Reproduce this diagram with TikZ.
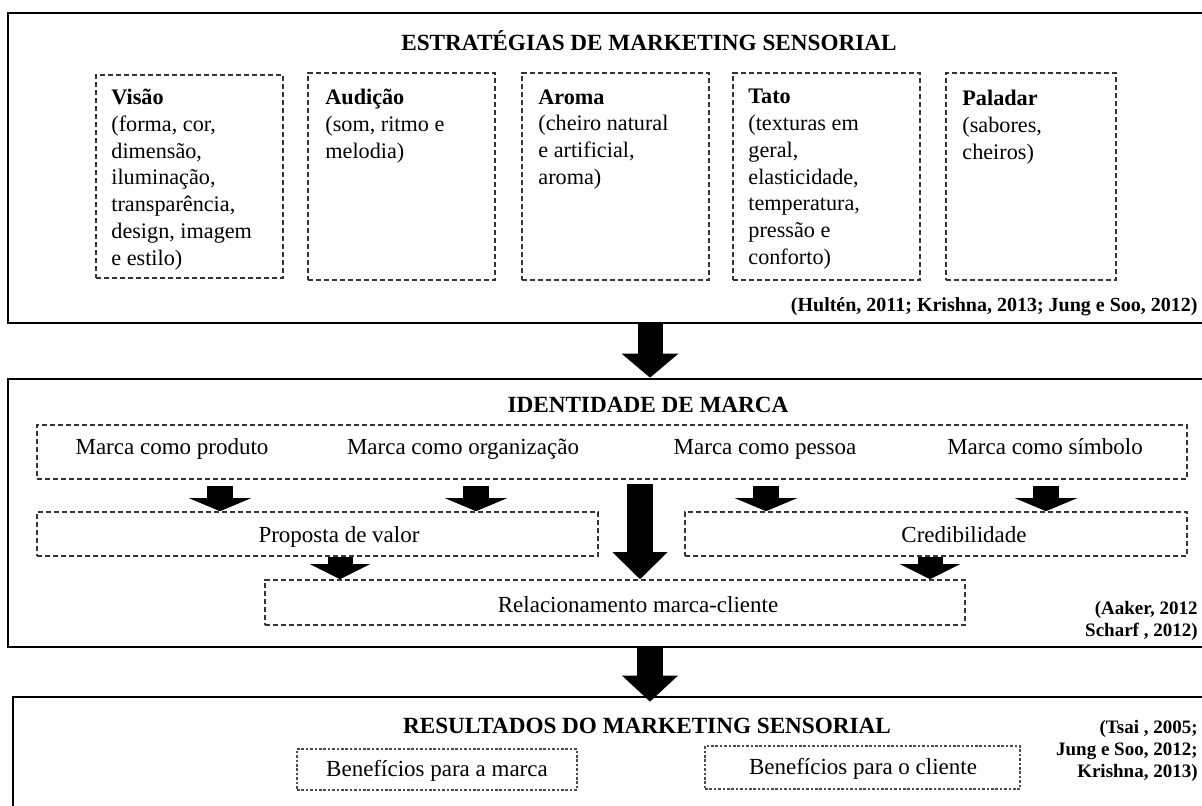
\documentclass[tikz,border=0pt]{standalone}
\usepackage{fontspec}
\setmainfont{Liberation Serif}
\usetikzlibrary{arrows.meta,fit}

\begin{document}
\begin{tikzpicture}[x=0.5pt, y=-0.5pt,
    panel/.style={draw=black, line width=1.4pt, inner sep=0pt},
    cuebox/.style={draw=black!80, line width=0.8pt, dash pattern=on 2.6pt off 1.4pt, inner sep=0pt},
    finebox/.style={draw=black!70, line width=0.9pt, dash pattern=on 1.3pt off 0.9pt, inner sep=0pt},
    heading/.style={font=\fontsize{11.6}{13}\selectfont\bfseries, inner sep=0pt, anchor=base},
    sense/.style={font=\fontsize{11.1}{13.35}\selectfont, align=left, inner sep=0pt, anchor=north west},
    facet/.style={font=\fontsize{11.5}{13}\selectfont, inner sep=0pt, anchor=base},
    cite/.style={font=\fontsize{9.5}{11}\selectfont\bfseries, align=right, inner sep=0pt, anchor=north east},
    fatarrow/.style n args={3}{line width=#1, -{Triangle[width=#2, length=#3, line width=0pt]}}]

  % === Page frame: the panels run past the right and bottom edges ===
  \useasboundingbox (0,0) rectangle (1202,805);
  \clip (0,0) rectangle (1202,805);

  % Columns of the block arrows
  \coordinate (mid) at (650,0);
  \coordinate (colA) at (220,0);
  \coordinate (colB) at (476,0);
  \coordinate (colC) at (640,0);
  \coordinate (colD) at (766,0);
  \coordinate (colE) at (1046,0);
  \coordinate (colP) at (340,0);
  \coordinate (colR) at (930,0);

  % === Three panels ===
  \node[panel, fit={(8,13) (1290,323)}] (strat) {};
  \node[panel, fit={(8,379) (1290,647)}] (ident) {};
  \node[panel, fit={(13,697) (1290,840)}] (result) {};

  % === Panel 1: sensory strategies ===
  \node[heading] (strat-title) at (649,50) {ESTRATÉGIAS DE MARKETING SENSORIAL};

  \node[cuebox, fit={(96,75) (283,278)}] (visao) {};
  \node[cuebox, fit={(308,73) (495,280)}] (audicao) {};
  \node[cuebox, fit={(522,73) (709,280)}] (aroma) {};
  \node[cuebox, fit={(733,73) (920,280)}] (tato) {};
  \node[cuebox, fit={(946,73) (1116,280)}] (paladar) {};

  \node[sense] (visao-txt) at (111,89)
    {\textbf{Visão}\\(forma, cor,\\dimensão,\\iluminação,\\transparência,\\design, imagem\\e estilo)};
  \node[sense] (audicao-txt) at (325,89)
    {\textbf{Audição}\\(som, ritmo e\\melodia)};
  \node[sense] (aroma-txt) at (538,89)
    {\textbf{Aroma}\\(cheiro natural\\e artificial,\\aroma)};
  \node[sense] (tato-txt) at (748,89)
    {\textbf{Tato}\\(texturas em\\geral,\\elasticidade,\\temperatura,\\pressão e\\conforto)};
  \node[sense] (paladar-txt) at (962,90)
    {\textbf{Paladar}\\(sabores,\\cheiros)};

  \node[cite, anchor=base east, font=\fontsize{10}{12}\selectfont\bfseries] (strat-cite) at (1198,311)
    {(Hultén, 2011; Krishna, 2013; Jung e Soo, 2012)};

  \draw[fatarrow={12.5pt}{28.5pt}{12pt}] (strat.south -| mid) -- (ident.north -| mid);

  % === Panel 2: brand identity ===
  \node[heading] (ident-title) at (648,412) {IDENTIDADE DE MARCA};

  \node[cuebox, fit={(37,425) (1187,479)}] (facets) {};
  \node[facet] (produto) at (172,454) {Marca como produto};
  \node[facet] (organizacao) at (463,454) {Marca como organização};
  \node[facet] (pessoa) at (765,454) {Marca como pessoa};
  \node[facet] (simbolo) at (1045,454) {Marca como símbolo};

  \node[cuebox, fit={(37,512) (598,556)}] (valor) {};
  \node[facet] (valor-txt) at (339,542) {Proposta de valor};
  \node[cuebox, fit={(685,512) (1187,556)}] (cred) {};
  \node[facet] (cred-txt) at (964,542) {Credibilidade};
  \node[cuebox, fit={(265,580) (965,625)}] (relac) {};
  \node[facet] (relac-txt) at (638,612) {Relacionamento marca-cliente};

  \node[cite] (ident-cite) at (1198,601) {(Aaker, 2012\\Scharf , 2012)};

  % Arrows from the four facets
  \foreach \col/\dst in {colA/valor, colB/valor, colD/cred, colE/cred}
    \draw[fatarrow={13pt}{31pt}{6.5pt}] ([yshift=-3pt]facets.south -| \col) -- (\dst.north -| \col);
  \draw[fatarrow={13pt}{27.5pt}{13.5pt}] ([yshift=-2pt]facets.south -| colC) -- (relac.north -| colC);
  \foreach \col/\src in {colP/valor, colR/cred}
    \draw[fatarrow={12.5pt}{30pt}{7.5pt}] (\src.south -| \col) -- (relac.north -| \col);

  \draw[fatarrow={13pt}{28pt}{13pt}] (ident.south -| mid) -- ([yshift=-3pt]result.north -| mid);

  % === Panel 3: outcomes ===
  \node[heading] (result-title) at (647,733) {RESULTADOS DO MARKETING SENSORIAL};

  \node[finebox, fit={(297,749) (577,790)}] (marca) {};
  \node[facet] (marca-txt) at (437,776) {Benefícios para a marca};
  \node[finebox, fit={(705,746) (1020,789)}] (cliente) {};
  \node[facet] (cliente-txt) at (863,774) {Benefícios para o cliente};

  \node[cite] (result-cite) at (1198,720) {(Tsai , 2005;\\Jung e Soo, 2012;\\Krishna, 2013)};

\end{tikzpicture}
\end{document}
